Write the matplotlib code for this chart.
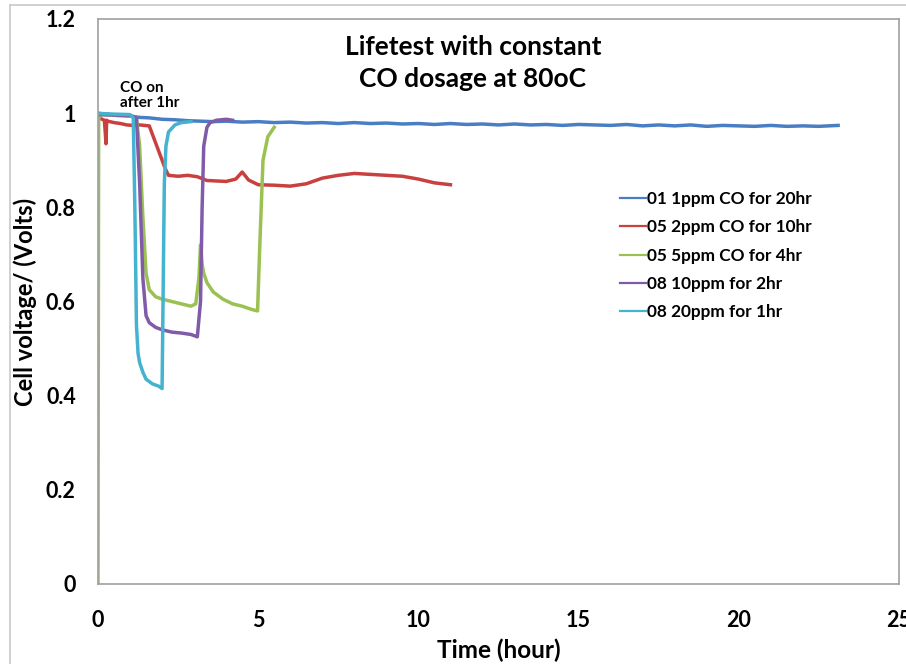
"""Lifetest with constant CO dosage: cell voltage vs time."""

import matplotlib

matplotlib.use("Agg")

import matplotlib.pyplot as plt
from matplotlib.lines import Line2D

# 01 1ppm CO for 20hr
t_1ppm = [0, 0.3, 0.6, 1.0, 1.3, 1.6, 2.0, 2.4, 2.8, 3.2, 3.6, 4.0, 4.5, 5.0, 5.5, 6.0,
          6.5, 7.0, 7.5, 8.0, 8.5, 9.0, 9.5, 10.0, 10.5, 11.0, 11.5, 12.0, 12.5, 13.0,
          13.5, 14.0, 14.5, 15.0, 15.5, 16.0, 16.5, 17.0, 17.5, 18.0, 18.5, 19.0, 19.5,
          20.0, 20.5, 21.0, 21.5, 22.0, 22.5, 23.1]
v_1ppm = [1.0, 0.998, 0.995, 0.994, 0.991, 0.990, 0.987, 0.986, 0.984, 0.983, 0.982, 0.983,
          0.981, 0.982, 0.980, 0.981, 0.979, 0.980, 0.978, 0.980, 0.978, 0.979, 0.977, 0.978,
          0.976, 0.978, 0.976, 0.977, 0.975, 0.977, 0.975, 0.976, 0.974, 0.976, 0.975, 0.974,
          0.976, 0.973, 0.975, 0.973, 0.975, 0.972, 0.974, 0.973, 0.972, 0.974, 0.972, 0.973,
          0.972, 0.974]

# 05 2ppm CO for 10hr
t_2ppm = [0, 0.1, 0.2, 0.25, 0.27, 0.3, 0.5, 0.7, 0.9, 1.1, 1.3, 1.6, 2.1, 2.2, 2.5, 2.8,
          3.1, 3.4, 3.7, 4.0, 4.3, 4.5, 4.7, 5.0, 5.5, 6.0, 6.5, 7.0, 7.5, 8.0, 8.5, 9.0,
          9.5, 10.0, 10.5, 11.0]
v_2ppm = [0.99, 0.988, 0.985, 0.935, 0.985, 0.983, 0.980, 0.978, 0.975, 0.974, 0.975, 0.973,
          0.882, 0.868, 0.866, 0.868, 0.865, 0.857, 0.856, 0.855, 0.860, 0.875, 0.858, 0.848,
          0.847, 0.845, 0.850, 0.862, 0.868, 0.872, 0.870, 0.868, 0.866, 0.860, 0.852, 0.848]

# 05 5ppm CO for 4hr
t_5ppm = [0, 0.02, 0.1, 0.5, 1.0, 1.2, 1.3, 1.4, 1.5, 1.6, 1.8, 2.0, 2.3, 2.6, 2.9, 3.05,
          3.15, 3.2, 3.25, 3.3, 3.4, 3.6, 3.9, 4.2, 4.5, 4.8, 4.98, 5.05, 5.15, 5.3, 5.5]
v_5ppm = [0.0, 0.99, 0.997, 0.996, 0.995, 0.99, 0.93, 0.78, 0.66, 0.625, 0.61, 0.605, 0.60,
          0.595, 0.59, 0.595, 0.65, 0.72, 0.68, 0.66, 0.64, 0.62, 0.605, 0.595, 0.59, 0.583,
          0.58, 0.72, 0.90, 0.95, 0.97]

# 08 10ppm for 2hr
t_10ppm = [0, 0.5, 1.0, 1.2, 1.3, 1.4, 1.5, 1.6, 1.8, 2.0, 2.3, 2.6, 2.9, 3.1, 3.2, 3.25,
           3.3, 3.4, 3.5, 3.7, 4.0, 4.2]
v_10ppm = [0.997, 0.996, 0.995, 0.99, 0.85, 0.65, 0.57, 0.555, 0.545, 0.54, 0.535, 0.533,
           0.53, 0.525, 0.60, 0.80, 0.93, 0.97, 0.98, 0.985, 0.987, 0.985]

# 08 20ppm for 1hr
t_20ppm = [0, 0.5, 1.0, 1.1, 1.15, 1.2, 1.25, 1.3, 1.4, 1.5, 1.7, 1.9, 2.0, 2.03, 2.07,
           2.12, 2.2, 2.4, 2.6, 2.9]
v_20ppm = [0.999, 0.998, 0.997, 0.99, 0.80, 0.55, 0.49, 0.47, 0.45, 0.435, 0.425, 0.42,
           0.415, 0.60, 0.85, 0.93, 0.96, 0.975, 0.98, 0.982]

series = [
    ("01 1ppm CO for 20hr", t_1ppm, v_1ppm, "#4a7ec4"),
    ("05 2ppm CO for 10hr", t_2ppm, v_2ppm, "#c8413e"),
    ("05 5ppm CO for 4hr", t_5ppm, v_5ppm, "#9bc153"),
    ("08 10ppm for 2hr", t_10ppm, v_10ppm, "#7f5ba8"),
    ("08 20ppm for 1hr", t_20ppm, v_20ppm, "#44b3cf"),
]

x_ticks = [0, 5, 10, 15, 20, 25]
y_ticks = [0, 0.2, 0.4, 0.6, 0.8, 1.0, 1.2]
y_tick_labels = ["0", "0.2", "0.4", "0.6", "0.8", "1", "1.2"]

plt.rcParams["font.family"] = ["Lato", "DejaVu Sans"]
plt.rcParams["font.weight"] = "bold"

fig = plt.figure(figsize=(9.06, 6.64), dpi=100)
ax = fig.add_axes([98 / 906, 1 - 584 / 664, (899 - 98) / 906, (584 - 19) / 664])

# Excel-style outer chart frame
fig.add_artist(Line2D([10 / 906, 10 / 906], [0, 1 - 5 / 664], transform=fig.transFigure,
                      color="#c8c8c8", lw=1.2))
fig.add_artist(Line2D([10 / 906, 1], [1 - 5 / 664, 1 - 5 / 664], transform=fig.transFigure,
                      color="#c8c8c8", lw=1.2))

for label, t, v, color in series:
    ax.plot(t, v, color=color, lw=2.5, label=label, solid_joinstyle="round")

ax.set_xlim(0, 25)
ax.set_ylim(0, 1.2)
ax.set_xticks(x_ticks)
ax.set_yticks(y_ticks, y_tick_labels)
ax.tick_params(length=0, labelsize=15.5)
ax.tick_params(axis="x", pad=19)
ax.tick_params(axis="y", pad=16)
for spine in ax.spines.values():
    spine.set_color("#a0a0a0")
    spine.set_linewidth(1.2)

ax.set_xlabel("Time (hour)", fontsize=17.5, fontweight="bold", labelpad=5)
ax.set_ylabel("Cell voltage/ (Volts)", fontsize=17, fontweight="bold", labelpad=6)

ax.text(11.7, 1.165, "Lifetest with constant\nCO dosage at 80oC", ha="center", va="top",
        fontsize=19, fontweight="bold", linespacing=1.4)
ax.text(0.69, 1.006, "CO on\nafter 1hr", ha="left", va="bottom", fontsize=11,
        fontweight="bold", linespacing=1.1)

handles = [Line2D([], [], color=c, lw=1.6) for _, _, _, c in series]
ax.legend(handles, [s[0] for s in series], loc="upper left",
          bbox_to_anchor=(613 / 906, 1 - 184 / 664), bbox_transform=fig.transFigure,
          frameon=False, fontsize=12.4, handlelength=1.5, handletextpad=0.1,
          labelspacing=0.72, borderaxespad=0)

fig.savefig("out.png", dpi=100)
